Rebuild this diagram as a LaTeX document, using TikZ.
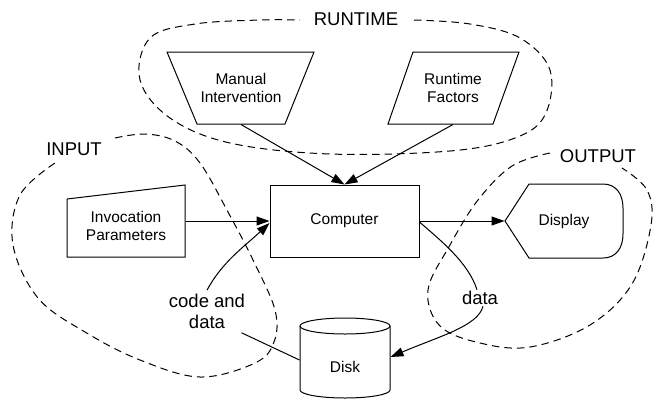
\documentclass[tikz,border=0pt]{standalone}
\usepackage{fontspec}
\setmainfont{Liberation Sans}
\usetikzlibrary{arrows.meta}
\begin{document}
\begin{tikzpicture}[x=1pt,y=-1pt,
  line width=1pt,
  shapeline/.style={line width=1pt, line join=miter},
  box/.style={draw, line width=1pt, minimum width=149pt, minimum height=72pt, inner sep=0pt},
  txt/.style={font=\fontsize{15.5}{18.5}\selectfont, align=center, inner sep=2pt},
  lbl/.style={font=\fontsize{18.5}{21}\selectfont, align=center, inner sep=2pt},
  arr/.style={-{Triangle[length=13pt,width=9pt]}},
  blob/.style={line width=1pt, dash pattern=on 7.5pt off 5pt}]
\useasboundingbox (0,0) rectangle (653,405);

% group outlines
\draw[blob] plot[smooth, tension=0.6] coordinates {(414,20) (470,24) (520,38) (550,70) (545,115) (515,138) (450,151) (330,154) (230,143) (170,118) (140,80) (150,38) (195,24) (260,20) (300,20)};
\draw[blob] plot[smooth, tension=0.6] coordinates {(115,138) (145,134) (175,141) (200,163) (228,212) (254,262) (275,310) (274,342) (255,363) (200,377) (140,360) (85,332) (38,298) (13,245) (20,195) (55,163)};
\draw[blob] plot[smooth, tension=0.6] coordinates {(550,153) (512,166) (478,200) (450,245) (428,290) (440,326) (480,343) (530,347) (590,325) (632,284) (651,225) (647,190) (622,168)};

% group labels
\node[lbl] (rt) at (356,19) {RUNTIME};
\node[lbl] (in) at (74,149) {INPUT};
\node[lbl] (out) at (598,156) {OUTPUT};

% manual operation (trapezoid)
\draw[shapeline] (167,52) -- (314,52) -- (285,124) -- (197,124) -- cycle;
\node[txt, minimum height=72pt] (manual) at (241,88) {Manual\\Intervention};

% runtime factors (parallelogram)
\draw[shapeline] (413,52) -- (519,52) -- (493,124) -- (388,124) -- cycle;
\node[txt, minimum height=72pt] (rtf) at (453,88) {Runtime\\Factors};

% manual input shape
\draw[shapeline] (67,199) -- (185,185) -- (185,257) -- (67,257) -- cycle;
\node[txt, minimum width=118pt] (inv) at (126,226) {Invocation\\Parameters};

% computer
\node[box, txt] (comp) at (344.5,221) {Computer};

% display shape
\draw[shapeline] (505,221) -- (529,184) -- (603,184)
  .. controls (616,184) and (623,194) .. (623,208) -- (623,234)
  .. controls (623,248) and (616,258) .. (603,258) -- (529,258) -- cycle;
\node[txt, minimum width=118pt] (disp) at (564,221) {Display};

% disk (cylinder)
\draw[shapeline] (345,326) ellipse [x radius=45, y radius=8];
\draw[shapeline] (300,326) -- (300,390) arc[start angle=180, end angle=0, x radius=45, y radius=8] -- (390,326);
\node[txt, minimum width=90pt] (disk) at (345,367) {Disk};

% edge labels
\node[lbl] (cd) at (207,311) {code and\\data};
\node[lbl] (dl) at (480,298) {data};

% connectors
\draw[arr] (manual.south) -- (comp.north);
\draw[arr] (rtf.south) -- (comp.north);
\draw[arr] (inv.east |- comp.west) -- (comp.west);
\draw[arr] (comp.east) -- (disp.west);
\draw ([yshift=7pt]disk.west) -- ([xshift=-6pt,yshift=-2pt]cd.south east);
\draw[arr] ([yshift=1pt]cd.north) .. controls (222,262) and (245,246) .. ([yshift=-2pt]comp.west);
\draw ([yshift=-1pt]comp.east) .. controls (440,240) and (468,262) .. ([xshift=-3pt,yshift=-1pt]dl.north);
\draw[arr] ([xshift=3pt,yshift=1pt]dl.south) .. controls (478,326) and (440,336) .. ([yshift=10pt]disk.east);
\end{tikzpicture}
\end{document}
